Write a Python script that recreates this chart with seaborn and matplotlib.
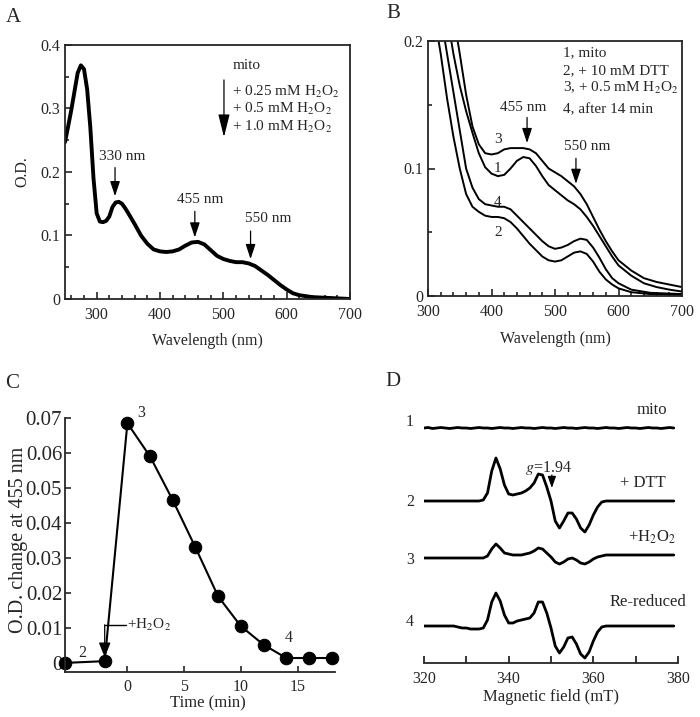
import numpy as np
import pandas as pd
import matplotlib
matplotlib.use("Agg")
import matplotlib.pyplot as plt
from matplotlib.ticker import MultipleLocator, FuncFormatter
import seaborn as sns

# ---------------- data ----------------
# Panel A: absorption spectrum (mito and + H2O2, traces overlap)
a_wl = [250, 255, 260, 265, 270, 275, 280, 285, 290, 295, 300, 305, 310, 315,
        320, 325, 330, 335, 340, 345, 350, 360, 370, 380, 390, 400, 410, 420,
        430, 440, 450, 460, 470, 480, 490, 500, 510, 520, 530, 540, 550, 560,
        570, 580, 590, 600, 610, 620, 640, 660, 680, 700]
a_od = [0.247, 0.272, 0.298, 0.327, 0.356, 0.368, 0.362, 0.330, 0.270, 0.190,
        0.135, 0.122, 0.121, 0.123, 0.130, 0.145, 0.152, 0.153, 0.150, 0.143,
        0.135, 0.118, 0.100, 0.087, 0.078, 0.075, 0.074, 0.075, 0.078, 0.084,
        0.089, 0.090, 0.086, 0.077, 0.068, 0.063, 0.060, 0.058, 0.058, 0.056,
        0.052, 0.045, 0.038, 0.030, 0.022, 0.015, 0.009, 0.006, 0.003, 0.002,
        0.001, 0.000]

# Panel B: spectra 1-4
b1_wl = [335, 340, 350, 360, 370, 380, 390, 400, 410, 420, 430, 440, 450, 460,
         470, 480, 490, 500, 510, 520, 530, 540, 550, 560, 570, 580, 590, 600,
         620, 640, 660, 680, 700]
b1_od = [0.205, 0.190, 0.165, 0.145, 0.128, 0.112, 0.101, 0.096, 0.094, 0.095,
         0.100, 0.106, 0.109, 0.108, 0.102, 0.094, 0.087, 0.083, 0.079, 0.075,
         0.072, 0.068, 0.062, 0.055, 0.047, 0.039, 0.031, 0.024, 0.016, 0.010,
         0.007, 0.005, 0.0035]
b2_wl = [315, 320, 330, 340, 350, 360, 370, 380, 390, 400, 410, 420, 430, 440,
         450, 460, 470, 480, 490, 500, 510, 520, 530, 540, 550, 560, 570, 580,
         590, 600, 620, 650, 700]
b2_od = [0.205, 0.190, 0.155, 0.125, 0.100, 0.080, 0.070, 0.066, 0.063, 0.062,
         0.062, 0.061, 0.058, 0.053, 0.047, 0.041, 0.036, 0.031, 0.028, 0.027,
         0.028, 0.031, 0.034, 0.035, 0.033, 0.027, 0.019, 0.013, 0.009, 0.006,
         0.003, 0.0015, 0.0008]
b3_wl = [345, 350, 360, 370, 380, 390, 400, 410, 420, 430, 440, 450, 460, 470,
         480, 490, 500, 510, 520, 530, 540, 550, 560, 570, 580, 590, 600, 620,
         640, 660, 680, 700]
b3_od = [0.205, 0.190, 0.158, 0.133, 0.119, 0.112, 0.111, 0.112, 0.115, 0.116,
         0.116, 0.116, 0.115, 0.112, 0.106, 0.100, 0.097, 0.094, 0.090, 0.086,
         0.080, 0.072, 0.062, 0.052, 0.043, 0.035, 0.028, 0.020, 0.014, 0.011,
         0.009, 0.007]
b4_wl = [325, 330, 340, 350, 360, 370, 380, 390, 400, 410, 420, 430, 440, 450,
         460, 470, 480, 490, 500, 510, 520, 530, 540, 550, 560, 570, 580, 590,
         600, 620, 650, 700]
b4_od = [0.205, 0.190, 0.160, 0.130, 0.100, 0.085, 0.076, 0.072, 0.071, 0.070,
         0.070, 0.068, 0.063, 0.058, 0.053, 0.048, 0.043, 0.039, 0.037, 0.038,
         0.040, 0.043, 0.045, 0.044, 0.038, 0.030, 0.021, 0.014, 0.010, 0.005,
         0.0025, 0.0015]

# Panel C: O.D. change at 455 nm vs time
c_time = [-5.5, -2, 0, 2, 4, 6, 8, 10, 12, 14, 16, 18]
c_od = [0.0, 0.0005, 0.0685, 0.059, 0.0465, 0.033, 0.019, 0.0105, 0.0052,
        0.0014, 0.0014, 0.0014]

# Panel D: EPR spectra (arbitrary units), field grid in mT
d_field = [320, 321, 322, 323, 324, 325, 326, 327, 328, 329, 330, 331, 332, 333,
           334, 335, 336, 337, 338, 339, 340, 341, 342, 343, 344, 345, 346, 347,
           348, 349, 350, 351, 352, 353, 354, 355, 356, 357, 358, 359, 360, 361,
           362, 363, 364, 365, 366, 367, 368, 369, 370, 371, 372, 373, 374, 375,
           376, 377, 378, 379]
d_mito = [0, 0.5, -0.5, 0, 0.5, 0, -0.5, 0, 0.5, 0, 0, -0.5, 0, 0.5, 0, 0,
          -0.5, 0, 0.5, 0, 0, -0.5, 0, 0.5, 0, 0, -0.5, 0, 0.5, 0, 0, -0.5, 0,
          0.5, 0, 0, -0.5, 0, 0.5, 0, 0, -0.5, 0, 0.5, 0, 0, -0.5, 0, 0.5, 0,
          0, -0.5, 0, 0.5, 0, 0, -0.5, 0, 0.5, 0]
d_dtt = [0, 0, 0, 0, 0, 0, 0, 0, 0, 0, 0, 0, 0, 0,
         1, 8, 30, 43, 32, 16, 7, 6, 7, 8, 10, 13, 18, 27, 26, 14, 0, -20, -27,
         -20, -12, -12, -18, -27, -31, -24, -14, -6, -1,
         0, 0, 0, 0, 0, 0, 0, 0, 0, 0, 0, 0, 0, 0, 0, 0, 0]
d_h2o2 = [-1, -1, -1, -1, -1, -1, -1, -1, -1, -1, -1, -1, -1, -1, -1,
          1, 8, 13, 9, 4, 3, 2, 2, 2, 3, 4, 6, 9, 8, 4, 0, -5, -7, -5, -2, -1,
          -3, -6, -7, -5, -2, 0, 1,
          2, 2, 2, 2, 2, 2, 2, 2, 2, 2, 2, 2, 2, 2, 2, 2, 2]
d_rered = [0, 0, 0, 0, 0, 0, 0, 0, -1, -2, -2, -3, -3, -3, -2,
           6, 24, 33, 25, 11, 3, 3, 5, 6, 7, 8, 13, 24, 24, 13, -2, -20, -27,
           -21, -12, -11, -18, -28, -32, -26, -15, -6, -1,
           0, 0, 0, 0, 0, 0, 0, 0, 0, 0, 0, 0, 0, 0, 0, 0, 0]
d_labels = ["1", "2", "3", "4"]
d_names = ["mito", "+ DTT", "+H$_2$O$_2$", "Re-reduced"]

# ---------------- style ----------------
sns.set_style("ticks")
plt.rcParams["font.family"] = ["Liberation Serif", "DejaVu Serif"]
plt.rcParams["mathtext.fontset"] = "stix"
plt.rcParams["axes.linewidth"] = 1.3
plt.rcParams["xtick.direction"] = "in"
plt.rcParams["ytick.direction"] = "in"

W, H = 700, 717
fig = plt.figure(figsize=(W / 100, H / 100), dpi=100)


def ax_px(left, top, right, bottom):
    return fig.add_axes([left / W, 1 - bottom / H, (right - left) / W, (bottom - top) / H])


def fmt(v, pos):
    if abs(v) < 1e-9:
        return "0"
    return ("%g" % v)


def arrow(ax, x, y0, y1, hl=9.0, hw=3.0, lw=0.9):
    ax.annotate("", xy=(x, y1), xytext=(x, y0),
                arrowprops=dict(arrowstyle="-|>,head_length=%g,head_width=%g" % (hl, hw),
                                lw=lw, color="k", mutation_scale=1,
                                shrinkA=0, shrinkB=0))

TS = 11.5  # tick size

# ---------------- Panel A ----------------
axA = ax_px(65, 45, 350, 299)
sns.lineplot(x=a_wl, y=a_od, ax=axA, color="k", lw=2.8, estimator=None, sort=False)
axA.set_xlim(250, 700)
axA.set_ylim(0, 0.4)
axA.xaxis.set_major_locator(MultipleLocator(100))
axA.xaxis.set_minor_locator(MultipleLocator(20))
axA.yaxis.set_major_locator(MultipleLocator(0.1))
axA.yaxis.set_minor_locator(MultipleLocator(0.05))
axA.yaxis.set_major_formatter(FuncFormatter(fmt))
axA.tick_params(which="both", labelsize=TS, width=1.2, top=False, right=False)
axA.tick_params(which="major", length=5)
axA.tick_params(which="minor", length=3)
axA.tick_params(axis="x", which="major", pad=6)
axA.set_xticks([300, 400, 500, 600, 700])
axA.set_xlabel("Wavelength (nm)", fontsize=11.5)
axA.set_ylabel("O.D.", fontsize=11.5)
axA.xaxis.set_label_coords(0.5, -0.135)
axA.yaxis.set_label_coords(-0.123, 0.5)
axA.text(514, 0.367, "mito", fontsize=11, va="center", ha="left")
axA.text(514, 0.326, "+ 0.25 mM H$_2$O$_2$", fontsize=11, va="center", ha="left")
axA.text(514, 0.299, "+ 0.5 mM H$_2$O$_2$", fontsize=11, va="center", ha="left")
axA.text(514, 0.271, "+ 1.0 mM H$_2$O$_2$", fontsize=11, va="center", ha="left")
arrow(axA, 501, 0.345, 0.255, hl=14, hw=3.5)
axA.text(340, 0.224, "330 nm", fontsize=11, va="center", ha="center")
arrow(axA, 329, 0.207, 0.162)
axA.text(464, 0.157, "455 nm", fontsize=11, va="center", ha="center")
arrow(axA, 455, 0.138, 0.097)
axA.text(571, 0.126, "550 nm", fontsize=11, va="center", ha="center")
arrow(axA, 543, 0.107, 0.063)
fig.text(13 / W, 1 - 18 / H, "A", fontsize=15, ha="center", va="center")

# ---------------- Panel B ----------------
axB = ax_px(428, 41, 682, 296)
for wl, od in [(b1_wl, b1_od), (b2_wl, b2_od), (b3_wl, b3_od), (b4_wl, b4_od)]:
    sns.lineplot(x=wl, y=od, ax=axB, color="k", lw=1.4, estimator=None, sort=False)
axB.set_xlim(300, 700)
axB.set_ylim(0, 0.2)
axB.xaxis.set_major_locator(MultipleLocator(100))
axB.xaxis.set_minor_locator(MultipleLocator(20))
axB.yaxis.set_major_locator(MultipleLocator(0.1))
axB.yaxis.set_minor_locator(MultipleLocator(0.05))
axB.yaxis.set_major_formatter(FuncFormatter(fmt))
axB.tick_params(which="both", labelsize=TS, width=1.2, top=False, right=False)
axB.tick_params(which="major", length=5)
axB.tick_params(which="minor", length=3)
axB.tick_params(axis="x", which="major", pad=6)
axB.set_xlabel("Wavelength (nm)", fontsize=11.5)
axB.xaxis.set_label_coords(0.5, -0.138)
axB.set_ylabel("")
for txt, yv in [("1, mito", 0.191), ("2, + 10 mM DTT", 0.177),
                ("3, + 0.5 mM H$_2$O$_2$", 0.163), ("4, after 14 min", 0.146)]:
    axB.text(513, yv, txt, fontsize=11, va="center", ha="left")
axB.text(450, 0.148, "455 nm", fontsize=11, va="center", ha="center")
arrow(axB, 456, 0.140, 0.120)
axB.text(550, 0.117, "550 nm", fontsize=11, va="center", ha="center")
arrow(axB, 533, 0.108, 0.088)
for lab, yv in [("3", 0.123), ("1", 0.100), ("4", 0.073), ("2", 0.050)]:
    axB.text(410, yv, lab, fontsize=11, va="center", ha="center")
fig.text(393 / W, 1 - 14 / H, "B", fontsize=15, ha="center", va="center")

# ---------------- Panel C ----------------
axC = ax_px(65, 418, 335, 672)
sns.lineplot(x=c_time, y=c_od, ax=axC, color="k", lw=1.5, marker="o",
             markersize=9, markeredgecolor="k", markerfacecolor="k",
             estimator=None, sort=False, clip_on=False)
axC.set_xlim(-5.5, 18.3)
axC.set_ylim(-0.0026, 0.07)
sns.despine(ax=axC)
axC.set_xticks([0, 5, 10, 15])
axC.set_yticks([0, 0.01, 0.02, 0.03, 0.04, 0.05, 0.06, 0.07])
axC.yaxis.set_major_formatter(FuncFormatter(fmt))
axC.tick_params(axis="y", labelsize=15, length=4, width=1.2, pad=2)
axC.tick_params(axis="x", labelsize=11.5, length=4, width=1.2, pad=5)
axC.set_xlabel("Time (min)", fontsize=12)
axC.set_ylabel("O.D. change at 455 nm", fontsize=14.5)
axC.xaxis.set_label_coords(0.53, -0.092)
axC.yaxis.set_label_coords(-0.137, 0.52)
axC.plot([-2, -0.15], [0.0109, 0.0109], color="k", lw=1.0)
arrow(axC, -2, 0.0109, 0.0016, hl=9, hw=3.6)
axC.text(0.0, 0.0109, "+H$_2$O$_2$", fontsize=11, va="center", ha="left")
axC.text(-4.0, 0.0029, "2", fontsize=11.5, va="center", ha="center")
axC.text(1.2, 0.0715, "3", fontsize=11.5, va="center", ha="center")
axC.text(14.2, 0.0070, "4", fontsize=11.5, va="center", ha="center")
fig.text(12 / W, 1 - 383 / H, "C", fontsize=15, ha="center", va="center")

# ---------------- Panel D ----------------
axD = ax_px(424, 400, 678, 663)
offsets = [235, 162, 106, 37]
for tr, off in zip([d_mito, d_dtt, d_h2o2, d_rered], offsets):
    sns.lineplot(x=d_field, y=np.array(tr) + off, ax=axD, color="k", lw=2.0,
                 estimator=None, sort=False)
axD.set_xlim(320, 380)
axD.set_ylim(0, 263)
sns.despine(ax=axD, left=True)
axD.set_yticks([])
axD.xaxis.set_major_locator(MultipleLocator(20))
axD.xaxis.set_minor_locator(MultipleLocator(10))
axD.tick_params(axis="x", which="both", direction="in", length=5, width=1.3,
                labelsize=TS, pad=6)
axD.set_xlabel("Magnetic field (mT)", fontsize=12)
axD.xaxis.set_label_coords(0.5, -0.1)
axD.set_ylabel("")
for lab, yv in zip(d_labels, [241, 161, 103, 41]):
    axD.text(316.7, yv, lab, fontsize=11.5, va="center", ha="center")
axD.text(373.9, 253, d_names[0], fontsize=12, va="center", ha="center")
axD.text(371.7, 180, d_names[1], fontsize=12, va="center", ha="center")
axD.text(373.9, 126, d_names[2], fontsize=12, va="center", ha="center")
axD.text(372.9, 61, d_names[3], fontsize=12, va="center", ha="center")
axD.text(349.3, 195, "$g$=1.94", fontsize=11.5, va="center", ha="center")
arrow(axD, 350.2, 188, 175, hl=7, hw=2.5)
fig.text(393 / W, 1 - 382 / H, "D", fontsize=15, ha="center", va="center")

fig.savefig("out.png", dpi=100, facecolor="white")
